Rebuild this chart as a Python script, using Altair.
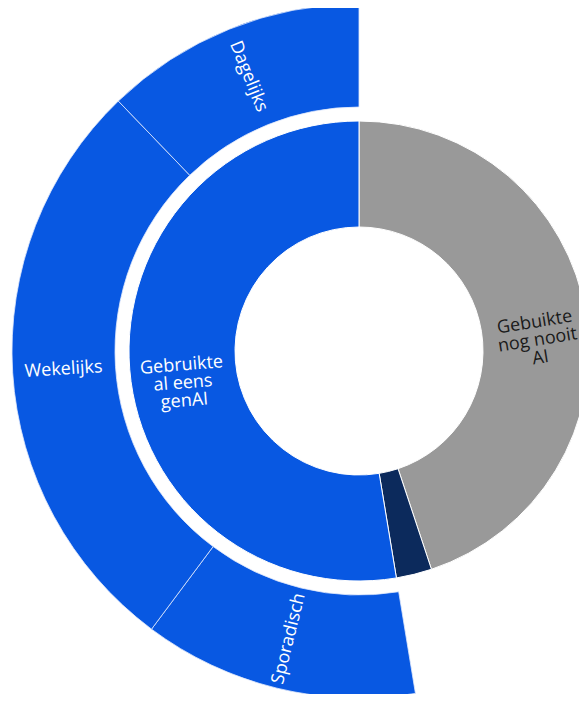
import altair as alt
import pandas as pd

# Inner ring (clockwise from top)
inner_labels = ["Gebuikte\nnog nooit\nAI", "Weet niet", "Gebruikte\nal eens\ngenAI"]
inner_values = [44.9, 2.5, 52.6]
inner_colors = ["#999999", "#0c2a5c", "#0858e2"]
inner_show = [True, False, True]

# Outer ring: breakdown of "Gebruikte al eens genAI"
outer_labels = ["Sporadisch", "Wekelijks", "Dagelijks"]
outer_values = [12.8, 27.6, 12.2]

CX, CY = 351, 343
theta_scale = alt.Scale(domain=[0, 100], range=[0, 6.283185307179586])

inner_df = pd.DataFrame({
    "name": inner_labels,
    "value": inner_values,
    "order": list(range(len(inner_labels))),
    "show": inner_show,
})
offset = sum(inner_values[:2])
outer_df = pd.DataFrame({
    "name": ["_offset"] + outer_labels,
    "value": [offset] + outer_values,
    "order": list(range(len(outer_labels) + 1)),
    "show": [False] + [True] * len(outer_labels),
})

def prep(df):
    return (
        alt.Chart(df)
        .transform_stack(stack="value", groupby=[], as_=["start", "end"],
                         sort=[alt.SortField("order", order="ascending")])
        .transform_calculate(
            mid="(datum.start + datum.end) / 2",
            middeg="(datum.start + datum.end) / 2 * 3.6",
        )
        .transform_calculate(
            rot="(((datum.middeg < 180 ? datum.middeg - 90 : datum.middeg - 270) % 360) + 360) % 360"
        )
    )

inner_base = prep(inner_df)
outer_base = prep(outer_df).transform_filter("datum.name != '_offset'")

inner_arc = inner_base.mark_arc(innerRadius=124, outerRadius=230, stroke="#ffffff", strokeWidth=1).encode(
    theta=alt.Theta("start:Q", scale=theta_scale),
    theta2="end:Q",
    color=alt.Color("name:N", scale=alt.Scale(domain=inner_labels, range=inner_colors), legend=None),
    x=alt.value(CX), y=alt.value(CY),
)

outer_arc = outer_base.mark_arc(innerRadius=244, outerRadius=347, stroke="#dfe8fb", strokeWidth=0.8,
                                fill="#0858e2").encode(
    theta=alt.Theta("start:Q", scale=theta_scale),
    theta2="end:Q",
    x=alt.value(CX), y=alt.value(CY),
)

inner_text = inner_base.transform_filter("datum.show").mark_text(
    radius=178, font="Open Sans", fontSize=18, lineBreak="\n", lineHeight=18,
    align="center", baseline="middle"
).encode(
    theta=alt.Theta("mid:Q", scale=theta_scale),
    text="name:N",
    angle=alt.Angle("rot:Q", scale=None),
    color=alt.condition("datum.order == 0", alt.value("#1a1a1a"), alt.value("#ffffff")),
    x=alt.value(CX), y=alt.value(CY),
)

outer_text = outer_base.mark_text(
    radius=296, font="Open Sans", fontSize=18, align="center", baseline="middle", color="#ffffff"
).encode(
    theta=alt.Theta("mid:Q", scale=theta_scale),
    text="name:N",
    angle=alt.Angle("rot:Q", scale=None),
    x=alt.value(CX), y=alt.value(CY),
)

chart = alt.layer(outer_arc, inner_arc, outer_text, inner_text).properties(
    width=571, height=686, padding=0, autosize=alt.AutoSizeParams(type="none")
).configure_view(stroke=None)

chart.save("out.html", embed_options={"renderer": "svg", "actions": False})
